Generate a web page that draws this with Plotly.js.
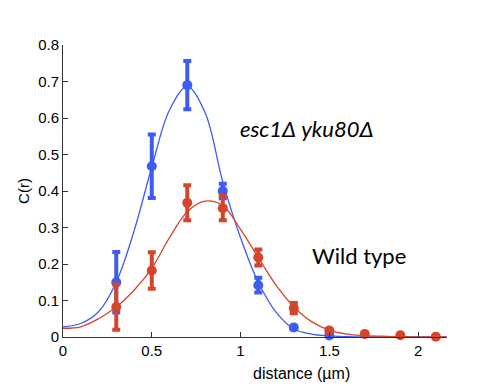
<!DOCTYPE html>
<html>
<head>
<meta charset="utf-8">
<script src="https://cdn.plot.ly/plotly-3.0.1.min.js"></script>
<style>html,body{margin:0;padding:0;background:#fff;}#chart{width:486px;height:386px;}</style>
</head>
<body>
<div id="chart"></div>
<script>
// Measured points: esc1Δ yku80Δ (blue)
var mutantX = [0.3, 0.5, 0.7, 0.9, 1.1, 1.3, 1.5, 1.7];
var mutantY = [0.150, 0.468, 0.690, 0.400, 0.142, 0.026, 0.004, -0.002];
var mutantErr = [0.083, 0.087, 0.066, 0.020, 0.020, 0.005, 0.002, 0.002];

// Measured points: wild type (red)
var wildX = [0.3, 0.5, 0.7, 0.9, 1.1, 1.3, 1.5, 1.7, 1.9, 2.1];
var wildY = [0.082, 0.182, 0.368, 0.353, 0.218, 0.079, 0.018, 0.008, 0.005, 0.001];
var wildErr = [0.062, 0.050, 0.048, 0.033, 0.022, 0.014, 0.004, 0.004, 0.002, 0.001];

// Fitted curves
var curveX = [0, 0.1, 0.2, 0.3, 0.4, 0.5, 0.6, 0.7, 0.8, 0.9, 1.0, 1.1, 1.2, 1.3, 1.4, 1.5, 1.6, 1.7, 1.8, 1.9, 2.0, 2.1, 2.16];
var mutantFit = [0.028, 0.037, 0.069, 0.150, 0.290, 0.465, 0.622, 0.686, 0.615, 0.425, 0.272, 0.150, 0.068, 0.022, 0.008, 0.003, 0.001, 0, 0, 0, 0, 0, 0];
var wildFit = [0.024, 0.028, 0.050, 0.082, 0.128, 0.188, 0.272, 0.343, 0.372, 0.360, 0.295, 0.218, 0.142, 0.083, 0.042, 0.019, 0.008, 0.004, 0.002, 0.001, 0, 0, 0];

var xTickVals = [0, 0.5, 1, 1.5, 2];
var xTickText = ['0', '0.5', '1', '1.5', '2'];
var yTickVals = [0, 0.1, 0.2, 0.3, 0.4, 0.5, 0.6, 0.7, 0.8];
var yTickText = ['0', '0.1', '0.2', '0.3', '0.4', '0.5', '0.6', '0.7', '0.8'];

var labelMutant = '<i>esc1\u0394 yku80\u0394</i>';
var labelWild = 'Wild type';
var xTitle = 'distance (\u00b5m)';
var yTitle = 'C(r)';

var BLUE = '#3d5cf2';
var RED = '#d4462c';

var traces = [
  {x: curveX, y: mutantFit, mode: 'lines', line: {color: BLUE, width: 1.3, shape: 'spline', smoothing: 1}, hoverinfo: 'skip', cliponaxis: false},
  {x: curveX, y: wildFit, mode: 'lines', line: {color: RED, width: 1.3, shape: 'spline', smoothing: 1}, hoverinfo: 'skip', cliponaxis: false},
  {x: mutantX, y: mutantY, mode: 'markers', marker: {color: BLUE, size: 10}, cliponaxis: false,
   error_y: {type: 'data', array: mutantErr, visible: true, color: BLUE, thickness: 4, width: 4}},
  {x: wildX, y: wildY, mode: 'markers', marker: {color: RED, size: 10}, cliponaxis: false,
   error_y: {type: 'data', array: wildErr, visible: true, color: RED, thickness: 4, width: 4}}
];

var axisFont = {family: '"Liberation Sans", Arial, sans-serif', size: 15, color: '#000'};

var layout = {
  width: 486, height: 386,
  margin: {l: 63, r: 39, t: 45, b: 49},
  paper_bgcolor: '#fff', plot_bgcolor: '#fff',
  showlegend: false,
  xaxis: {
    range: [0, 2.163], tickvals: xTickVals, ticktext: xTickText,
    ticks: 'inside', ticklen: 5, tickcolor: '#333', tickwidth: 1,
    showline: true, linecolor: '#333', linewidth: 1, showgrid: false, zeroline: false,
    tickfont: axisFont
  },
  yaxis: {
    range: [0, 0.8], tickvals: yTickVals, ticktext: yTickText,
    ticks: 'inside', ticklen: 5, tickcolor: '#333', tickwidth: 1,
    showline: true, linecolor: '#333', linewidth: 1, showgrid: false, zeroline: false,
    tickfont: axisFont,
    title: {text: yTitle, font: {family: '"Liberation Sans", Arial, sans-serif', size: 15, color: '#000'}, standoff: 4}
  },
  annotations: [
    {text: labelMutant, xref: 'x', yref: 'y', x: 1.375, y: 0.570, showarrow: false,
     font: {family: 'Lato, "Open Sans", sans-serif', size: 22, color: '#000'}, xanchor: 'center', yanchor: 'middle'},
    {text: labelWild, xref: 'x', yref: 'y', x: 1.668, y: 0.222, showarrow: false,
     font: {family: 'Lato, "Open Sans", sans-serif', size: 22, color: '#000'}, xanchor: 'center', yanchor: 'middle'},
    {text: xTitle, xref: 'paper', yref: 'paper', x: 0.622, y: 0, yshift: -36, showarrow: false,
     font: {family: '"Liberation Sans", Arial, sans-serif', size: 16, color: '#000'}, xanchor: 'center', yanchor: 'middle'}
  ]
};

Plotly.newPlot('chart', traces, layout, {displayModeBar: false, staticPlot: true});
</script>
</body>
</html>
